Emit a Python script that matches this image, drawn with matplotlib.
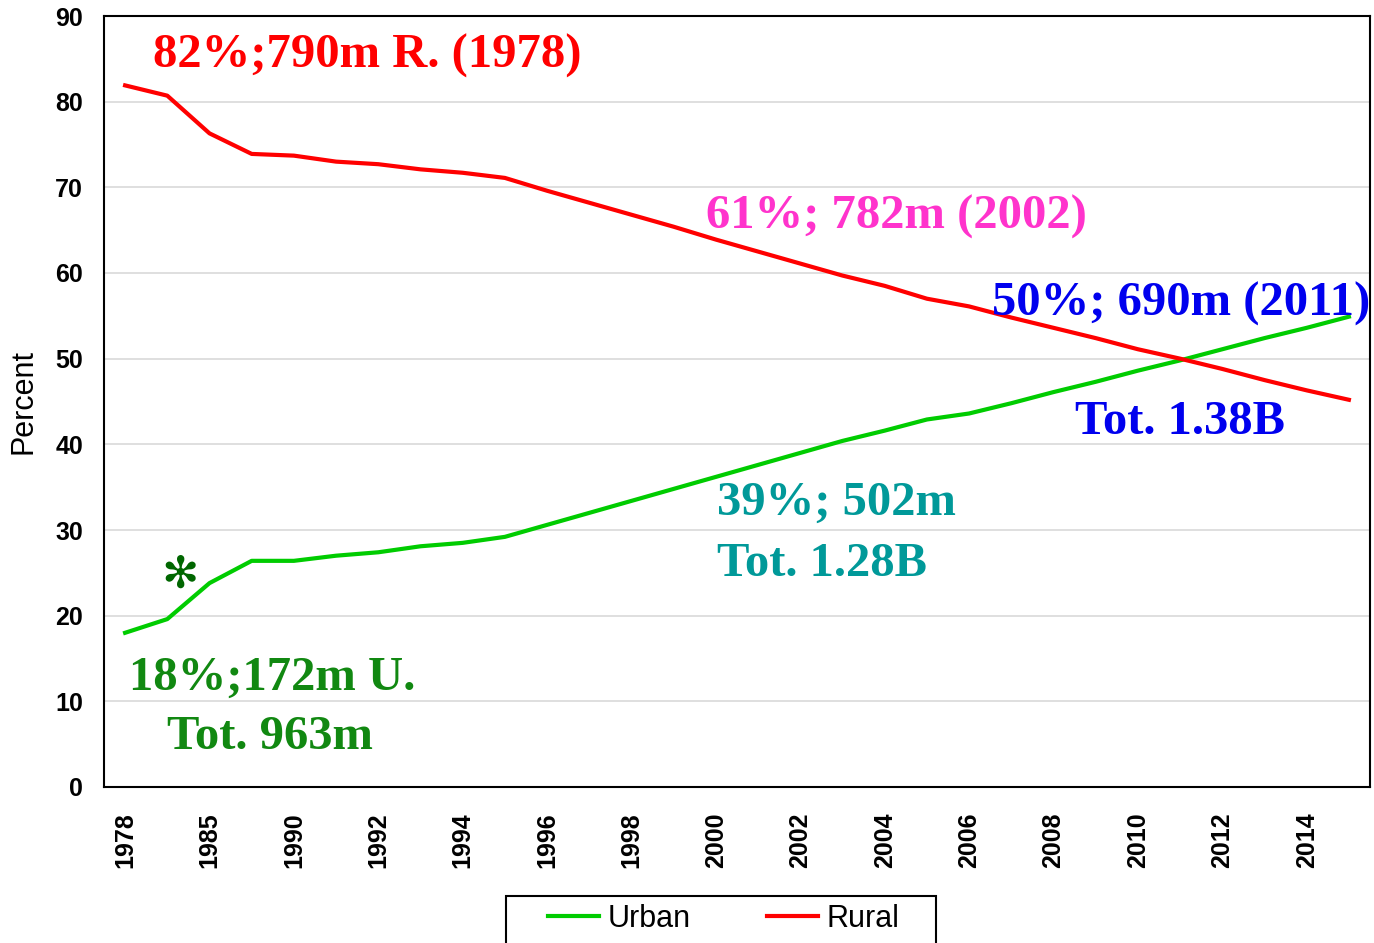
import matplotlib
matplotlib.use("Agg")
import matplotlib.pyplot as plt
from matplotlib.lines import Line2D
from matplotlib.patches import Rectangle

# ── data ──
years = [1978, 1980, 1985, 1989] + list(range(1990, 2016))
urban = [18.0, 19.6, 23.8, 26.4, 26.4, 27.0, 27.4, 28.1, 28.5, 29.2,
         30.6, 32.0, 33.4, 34.8, 36.2, 37.6, 39.0, 40.4, 41.6, 42.9,
         43.6, 44.8, 46.1, 47.3, 48.6, 49.8, 51.1, 52.4, 53.6, 54.9]
rural = [81.9, 80.7, 76.3, 73.9, 73.7, 73.0, 72.7, 72.1, 71.7, 71.1,
         69.6, 68.2, 66.8, 65.4, 63.9, 62.5, 61.1, 59.7, 58.5, 57.0,
         56.1, 54.8, 53.6, 52.4, 51.1, 50.0, 48.8, 47.5, 46.3, 45.2]

serif = "Liberation Serif"
sans = "Liberation Sans"

fig = plt.figure(figsize=(13.74, 9.43), dpi=100)
ax = fig.add_axes([104 / 1374, 1 - 787 / 943, 1266 / 1374, 771 / 943])

x = list(range(len(years)))
ax.plot(x, urban, color="#00CC00", lw=3, solid_joinstyle="round", label="Urban", zorder=3)
ax.plot(x, rural, color="#FF0000", lw=3, solid_joinstyle="round", label="Rural", zorder=3)

ax.set_xlim(-0.5, len(years) - 0.5)
ax.set_ylim(0, 90)
ax.set_yticks(range(0, 91, 10))
ax.set_yticklabels([str(v) for v in range(0, 91, 10)], fontfamily=sans,
                   fontweight="bold", fontsize=18)
ax.set_xticks(x[::2])
ax.set_xticklabels([str(y) for y in years[::2]], rotation=90, fontfamily=sans,
                   fontweight="bold", fontsize=18)
ax.tick_params(axis="y", length=0, pad=15)
ax.tick_params(axis="x", length=0, pad=18)
for v in range(10, 90, 10):
    ax.axhline(v, color="#D9D9D9", lw=1.2, zorder=1)
for s in ax.spines.values():
    s.set_color("black")
    s.set_linewidth(1.5)
ax.set_ylabel("Percent", fontfamily=sans, fontsize=22, labelpad=12)

# ── annotations ──
tk = dict(fontfamily=serif, fontweight="bold", fontsize=35, transform=fig.transFigure,
          ha="left", va="baseline")
W, H = 1374, 943
def note(px, py, s, c, **kw):
    fig.text(px / W, 1 - py / H, s, color=c, **{**tk, **kw})

note(153, 68, "82%;790m R. (1978)", "#FF0000")
note(706, 229, "61%; 782m (2002)", "#FF33CC")
note(992, 316, "50%; 690m (2011)", "#0000EE")
note(1075, 434, "Tot. 1.38B", "#0000EE")
note(717, 515, "39%; 502m", "#009999")
note(717, 576, "Tot. 1.28B", "#009999")
note(129, 690, "18%;172m U.", "#118811")
note(167, 749, "Tot. 963m", "#118811")
fig.text(180 / W, 1 - 575 / H, "\u273B", color="#006600", fontsize=32,
         fontfamily="DejaVu Sans", ha="center", va="center")

# legend: text/handles without frame, box drawn separately (it runs off the bottom)
handles = [Line2D([], [], color="#00CC00", lw=3), Line2D([], [], color="#FF0000", lw=3)]
leg = fig.legend(handles, ["Urban", "Rural"], loc="center", ncol=2,
                 bbox_to_anchor=(724 / W, 1 - 919 / H), frameon=False,
                 prop=dict(family=sans, size=22), handlelength=1.65, handletextpad=0.3,
                 columnspacing=2.5, borderpad=0, borderaxespad=0)
fig.patches.append(Rectangle((506 / W, -0.02), 430 / W, 0.02 + 47 / H,
                             transform=fig.transFigure, fill=False,
                             edgecolor="black", lw=1.5))

fig.savefig("out.png", dpi=100)
